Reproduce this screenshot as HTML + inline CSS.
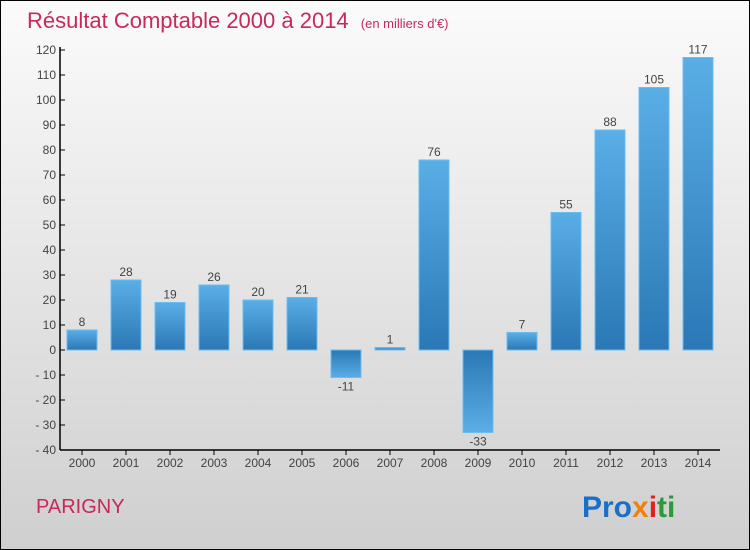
<!DOCTYPE html>
<html><head><meta charset="utf-8"><style>
body{margin:0}
svg{display:block;font-family:"Liberation Sans",sans-serif}
</style></head><body>
<svg width="750" height="550" viewBox="0 0 750 550">
<defs>
<linearGradient id="bg" x1="0" y1="0" x2="0" y2="1"><stop offset="0" stop-color="#fbfbfb"/><stop offset="1" stop-color="#cfcfcf"/></linearGradient>
<linearGradient id="pos" x1="0" y1="0" x2="0" y2="1"><stop offset="0" stop-color="#5aaee6"/><stop offset="1" stop-color="#2a78b5"/></linearGradient>
<linearGradient id="neg" x1="0" y1="0" x2="0" y2="1"><stop offset="0" stop-color="#2a78b5"/><stop offset="1" stop-color="#5aaee6"/></linearGradient>
</defs>
<rect x="0.5" y="0.5" width="749" height="549" fill="url(#bg)" stroke="#000"/>
<text x="27" y="28" font-size="22" fill="#c8285a">Résultat Comptable 2000 à 2014 <tspan font-size="13" dx="6">(en milliers d'€)</tspan></text>
<g id="axes"></g>
<g id="bars"></g>
<text x="36" y="513" font-size="20" fill="#c8285a">PARIGNY</text>
<text x="582" y="517" font-size="30" font-weight="bold"><tspan fill="#1a6fc9">Pro</tspan><tspan fill="#f08010">x</tspan><tspan fill="#e02020">i</tspan><tspan fill="#2a9a3a">ti</tspan></text>
</svg>
<script>
const categories=["2000","2001","2002","2003","2004","2005","2006","2007","2008","2009","2010","2011","2012","2013","2014"];
const values=[8,28,19,26,20,21,-11,1,76,-33,7,55,88,105,117];
const yTicks=[-40,-30,-20,-10,0,10,20,30,40,50,60,70,80,90,100,110,120];
const NS="http://www.w3.org/2000/svg";
const y=v=>350-v*2.5;
const x=i=>82+i*44;
function mk(t,a,p){const e=document.createElementNS(NS,t);for(const k in a)e.setAttribute(k,a[k]);p.appendChild(e);return e;}
const ax=document.getElementById('axes'),bg=document.getElementById('bars');
let l=mk('line',{x1:60,y1:y(120)-3,x2:60,y2:450,stroke:'#000','stroke-width':1.5},ax);


l=mk('line',{x1:60,y1:450,x2:720,y2:450,stroke:'#000','stroke-width':1.5},ax);


yTicks.forEach(v=>{
 mk('line',{x1:60,y1:y(v),x2:65,y2:y(v),stroke:'#000'},ax);
 const t=mk('text',{x:56,y:y(v)+4,'font-size':12,fill:'#444','text-anchor':'end'},ax);
 t.textContent=v<0?'- '+(-v):v;
 
 
});
categories.forEach((c,i)=>{
 mk('line',{x1:x(i),y1:450,x2:x(i),y2:455,stroke:'#000'},ax);
 const t=mk('text',{x:x(i),y:467,'font-size':12,fill:'#444','text-anchor':'middle'},ax);
 t.textContent=c;
 
 
 const v=values[i];
 const r=mk('rect',{x:x(i)-15,y:Math.min(y(v),y(0)),width:30,height:Math.abs(y(v)-y(0)),fill:v>=0?'url(#pos)':'url(#neg)',stroke:'#6cbcf0','stroke-width':1},bg);
 
 
 const lb=mk('text',{x:x(i),y:v>=0?y(v)-4:y(v)+13,'font-size':12,fill:'#444','text-anchor':'middle'},bg);
 lb.textContent=v<0?'-'+(-v):v;
 
 
});
</script>
</body></html>
